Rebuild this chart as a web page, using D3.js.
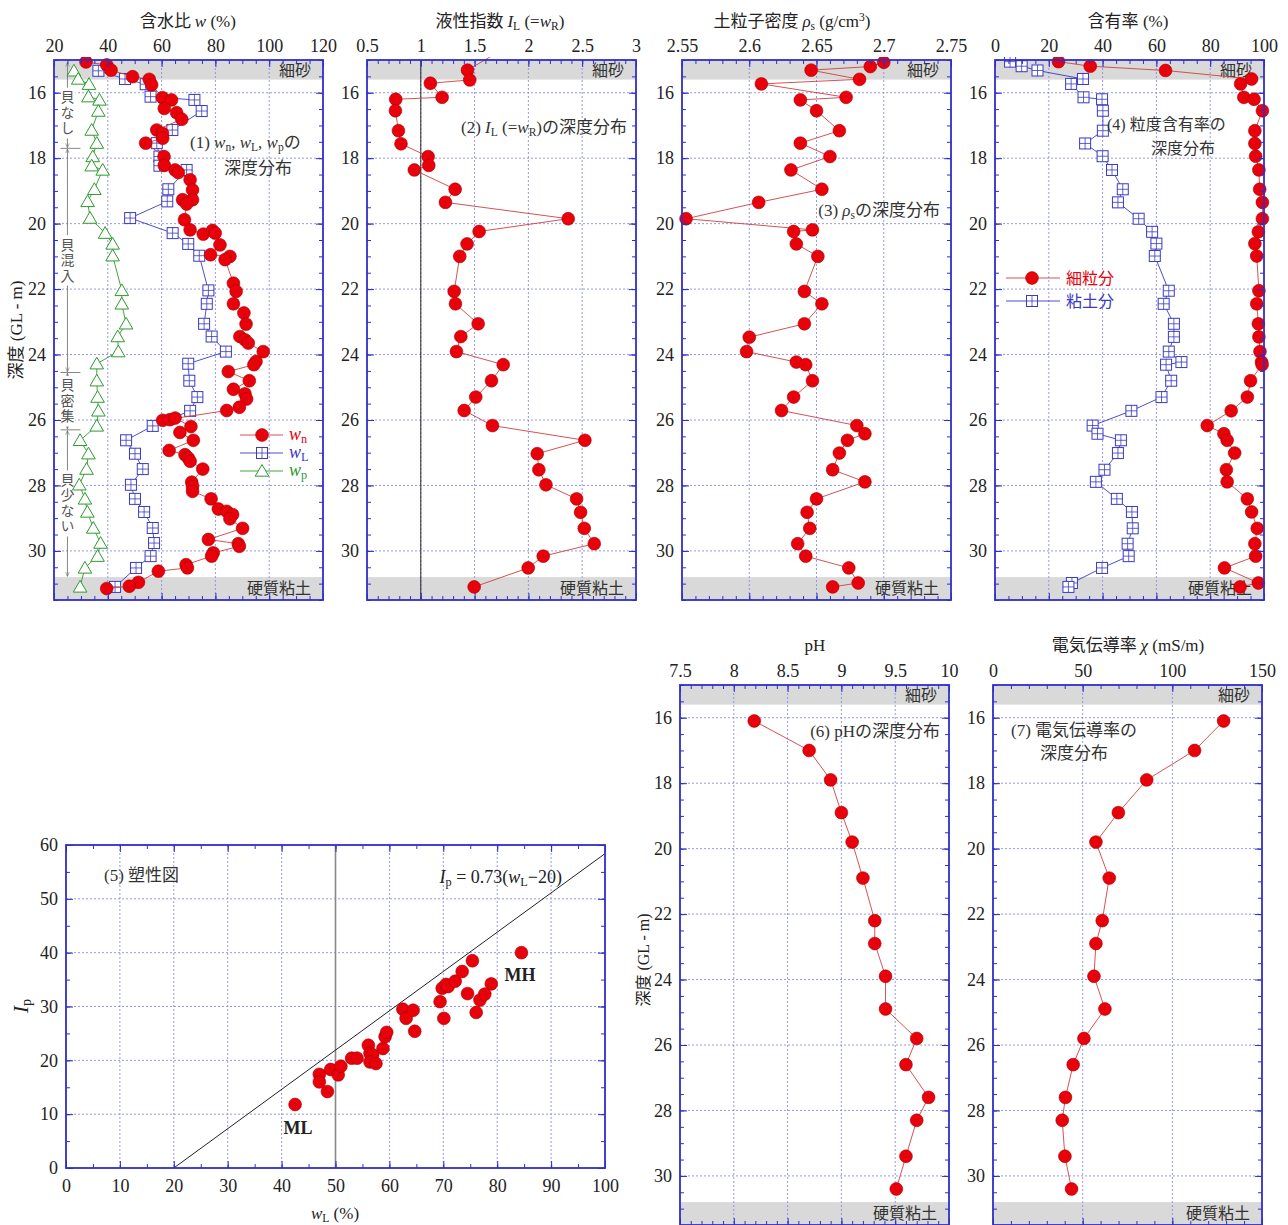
<!DOCTYPE html>
<html>
<head>
<meta charset="utf-8">
<script src="https://d3js.org/d3.v7.min.js"></script>
<style>
body { margin: 0; background: #fff; }
svg { display: block; font-family: "Liberation Serif", "Noto Sans CJK JP", serif; }
</style>
</head>
<body>
<script>

// (1) natural water content wn vs depth
var wnDepth = [15.06,15.15,15.31,15.51,15.59,15.76,16.15,16.22,16.48,16.61,16.81,17.14,17.24,17.39,17.54,17.95,18.22,18.36,18.44,18.66,18.97,19.27,19.27,19.4,19.88,20.19,20.32,20.21,20.29,20.65,20.95,21.0,21.1,21.82,22.07,22.45,22.73,
  23.07,23.45,23.55,23.65,23.91,24.21,24.31,24.52,24.8,25.06,25.2,25.36,25.61,25.71,26.01,25.99,25.94,26.2,26.38,26.62,26.93,27.06,27.16,27.26,27.5,27.9,28.03,28.18,28.41,28.72,28.79,28.89,29.02,29.31,29.65,29.78,29.86,30.06,30.16,30.42,30.52,30.62,30.96,31.08,31.15];
var wnVal = [31.9,39.6,41.2,49.2,55.4,56.3,60.3,63.7,61.0,65.6,67.5,58.2,60.3,60.4,54.1,60.9,61.0,65.0,66.2,70.6,71.5,71.5,67.8,69.3,68.5,70.6,75.5,78.9,79.9,81.7,78.2,85.4,83.6,86.7,87.7,86.7,90.6,
  91.4,89.1,91.0,92.2,97.8,95.1,94.3,84.8,92.6,86.7,91.0,91.6,88.9,84.2,60.4,63.1,65.0,70.9,66.8,71.8,62.8,68.7,69.9,70.6,75.3,71.2,71.5,71.5,78.4,81.1,84.2,86.4,85.4,90.1,77.4,88.5,88.9,79.2,78.6,69.1,69.6,58.8,51.4,48.0,39.6];

// liquid limit wL and plastic limit wp (same samples)
var atDepth = [15.33,15.58,15.74,16.12,16.22,16.56,17.14,17.54,17.95,18.23,18.36,18.95,19.32,19.83,20.29,20.62,20.98,22.04,22.45,23.06,23.45,23.91,24.28,24.8,25.3,25.72,26.18,26.62,27.03,27.5,27.98,28.41,28.81,29.3,29.76,30.16,30.52,31.1];
var wLVal = [36.5,46.4,54.1,55.9,72.2,74.9,64.0,58.2,59.2,59.2,69.3,62.5,62.1,48.3,64.1,69.9,74.0,77.4,76.8,75.8,78.6,83.9,69.9,70.3,73.3,70.6,56.7,46.8,50.1,53.0,48.6,50.1,53.5,56.7,57.2,55.9,50.5,42.7];
var wpVal = [27.4,29.0,33.0,32.8,36.9,36.5,34.0,35.9,34.4,34.0,38.1,35.0,32.5,33.4,39.0,41.8,41.8,45.2,45.2,46.8,43.7,43.9,35.9,35.9,36.2,36.5,35.9,29.7,32.8,32.1,29.4,31.5,32.4,34.6,37.3,36.2,31.5,29.7];

// (2) liquidity index
var ilDepth = [14.7,15.31,15.61,15.71,16.14,16.2,16.55,17.16,17.56,17.95,18.22,18.36,18.95,19.35,19.85,20.24,20.62,21.0,22.07,22.45,23.06,23.45,23.91,24.31,24.8,25.3,25.71,26.17,26.62,27.03,27.52,27.98,28.41,28.82,29.31,29.78,30.16,30.52,31.1];
var ilVal = [1.75,1.434,1.455,1.089,1.198,0.767,0.764,0.792,0.816,1.068,1.074,0.94,1.319,1.229,2.37,1.542,1.43,1.362,1.31,1.322,1.533,1.372,1.331,1.766,1.657,1.511,1.403,1.666,2.525,2.082,2.097,2.163,2.448,2.485,2.519,2.612,2.138,1.998,1.496];

// (3) soil particle density
var rhoDepth = [15.07,15.2,15.31,15.59,15.73,16.14,16.22,16.55,17.16,17.54,17.95,18.36,18.95,19.35,19.85,20.19,20.24,20.62,21.0,22.07,22.45,23.06,23.47,23.91,24.23,24.31,24.8,25.3,25.71,26.17,26.42,26.62,27.01,27.52,27.89,28.41,28.82,29.31,29.78,30.16,30.52,30.98,31.1];
var rhoVal = [2.700,2.690,2.646,2.682,2.609,2.672,2.638,2.650,2.667,2.638,2.660,2.631,2.654,2.607,2.553,2.647,2.633,2.635,2.651,2.641,2.654,2.641,2.600,2.598,2.635,2.642,2.647,2.633,2.624,2.680,2.686,2.673,2.667,2.662,2.686,2.650,2.643,2.645,2.636,2.642,2.674,2.681,2.662];

// (4) fines and clay content
var gsDepth = [15.05,15.19,15.32,15.58,15.73,16.14,16.2,16.55,17.16,17.55,17.94,18.36,18.95,19.35,19.85,20.25,20.61,20.99,22.05,22.45,23.06,23.46,23.91,24.23,24.31,24.8,25.3,25.72,26.17,26.42,26.62,27.01,27.52,27.89,28.41,28.81,29.31,29.78,30.16,30.52,30.98,31.1];
var finesVal = [23.6,35.4,63.4,95.4,91.3,92.5,96.3,99.4,96.6,96.6,96.9,98.1,98.4,99.4,99.4,97.9,96.6,97.3,98.1,97.3,97.9,98.1,98.5,99.1,99.3,95.0,93.8,87.8,78.9,85.1,86.3,89.1,86.0,86.3,93.8,95.4,97.5,96.6,96.9,85.3,97.9,91.1];
var clayVal = [5.6,9.9,15.8,32.7,28.3,32.9,39.8,40.1,40.1,33.5,40.0,43.5,47.5,45.7,53.4,58.4,60.0,59.4,64.6,62.7,66.5,66.5,64.6,69.3,63.6,65.5,61.9,50.7,36.3,38.1,46.8,45.7,40.7,37.5,45.3,50.9,51.2,49.3,49.7,39.8,28.6,27.3];

// (5) plasticity chart
var plWL = [42.5,47.0,47.0,48.5,49.1,50.5,51.0,53.0,54.0,56.1,56.4,56.9,56.4,57.5,58.8,59.2,59.5,62.5,63.1,64.4,64.7,69.4,69.8,70.1,70.5,70.9,72.2,73.5,74.5,75.4,76.1,76.8,77.7,78.9,84.5];
var plIP = [11.8,17.4,16.0,14.2,18.3,17.3,18.9,20.4,20.4,22.8,21.3,21.0,19.7,19.4,22.2,24.4,25.2,29.5,27.8,29.3,25.4,30.9,33.4,27.8,34.1,33.7,34.7,36.5,32.4,38.5,28.9,31.2,32.3,34.2,40.0];

// (6)(7) pH and electric conductivity
var chemDepth = [16.1,17.0,17.9,18.9,19.8,20.9,22.2,22.9,23.9,24.9,25.8,26.6,27.6,28.3,29.4,30.4];
var phVal = [8.19,8.70,8.90,9.00,9.10,9.20,9.31,9.31,9.41,9.41,9.70,9.60,9.81,9.70,9.60,9.51];
var ecVal = [128.6,112.4,85.7,69.9,57.4,64.8,60.9,57.4,56.3,62.4,50.7,44.7,40.4,38.6,40.1,43.8];

var depthTicks = [16,18,20,22,24,26,28,30];
var sandBand = [15, 15.6], clayBand = [30.8, 31.5];

var C = {frame:"#2f2fc8", grid:"#8c8ce6", red:"#e8000b", redEdge:"#a80000", redLine:"#d04040",
         blue:"#3a3ac4", green:"#2e9a2e", band:"#d9d9d9", text:"#222", jp:"#333"};

var svg = d3.select("body").append("svg").attr("width", 1288).attr("height", 1225);
var clipCount = 0;

function steps(a, b, s) {
  var n = Math.round((b - a) / s);
  return d3.range(n + 1).map(function(i) { return +(a + i * s).toFixed(6); });
}

function makePanel(o) {
  var g = svg.append("g").attr("transform", "translate(" + o.left + "," + o.top + ")");
  var x = d3.scaleLinear().domain(o.xDomain).range([0, o.w]);
  var y = d3.scaleLinear().domain(o.yDomain).range(o.yFlip ? [o.h, 0] : [0, o.h]);
  var id = "clip" + (clipCount++);
  g.append("clipPath").attr("id", id).append("rect")
    .attr("x", -12).attr("y", -3).attr("width", o.w + 24).attr("height", o.h + 6);

  var back = g.append("g");
  if (o.bands) {
    o.bands.forEach(function(b) {
      back.append("rect").attr("x", 0).attr("width", o.w)
        .attr("y", y(b.r[0])).attr("height", y(b.r[1]) - y(b.r[0]))
        .attr("fill", C.band);
    });
  }

  var grid = g.append("g").attr("stroke", C.grid).attr("stroke-width", 0.9).attr("stroke-dasharray", "2,2");
  grid.selectAll(".gx").data(o.xTicks.filter(function(t) { return t > o.xDomain[0] && t < o.xDomain[1]; }))
    .join("line").attr("x1", x).attr("x2", x).attr("y1", 0).attr("y2", o.h);
  grid.selectAll(".gy").data(o.yTicks.filter(function(t) { return t > d3.min(o.yDomain) && t < d3.max(o.yDomain); }))
    .join("line").attr("y1", y).attr("y2", y).attr("x1", 0).attr("x2", o.w);

  if (o.bands) {
    o.bands.forEach(function(b) {
      g.append("text").attr("x", o.w - 12).attr("y", y((b.r[0] + b.r[1]) / 2)).attr("dy", "0.36em")
        .attr("text-anchor", "end").attr("font-size", 16).attr("fill", C.jp)
        .attr("font-family", "Noto Sans CJK JP").text(b.label);
    });
  }

  var under = g.append("g");
  var plot = g.append("g").attr("clip-path", "url(#" + id + ")");
  var axes = g.append("g");

  var none = function() { return ""; };
  var xMinor = steps(o.xDomain[0], o.xDomain[1], o.xMinor);
  var yMinor = steps(d3.min(o.yDomain), d3.max(o.yDomain), o.yMinor);

  function put(axis, tr) {
    var a = axes.append("g").attr("transform", tr || null).call(axis);
    a.select(".domain").remove();
    a.selectAll("line").attr("stroke", C.frame).attr("stroke-width", 1);
    a.selectAll("text").attr("font-family", "Liberation Serif").attr("font-size", 18).attr("fill", C.text);
  }
  put(d3.axisTop(x).tickValues(xMinor).tickSize(-4).tickFormat(none));
  put(d3.axisBottom(x).tickValues(xMinor).tickSize(-4).tickFormat(none), "translate(0," + o.h + ")");
  put(d3.axisLeft(y).tickValues(yMinor).tickSize(-4).tickFormat(none));
  put(d3.axisRight(y).tickValues(yMinor).tickSize(-4).tickFormat(none), "translate(" + o.w + ",0)");
  put(d3.axisTop(x).tickValues(o.xTicks).tickSize(-7).tickPadding(8).tickFormat(o.xLabelsBottom ? none : String));
  put(d3.axisBottom(x).tickValues(o.xTicks).tickSize(-7).tickPadding(11).tickFormat(o.xLabelsBottom ? String : none), "translate(0," + o.h + ")");
  put(d3.axisLeft(y).tickValues(o.yTicks).tickSize(-7).tickPadding(8).tickFormat(String));
  put(d3.axisRight(y).tickValues(o.yTicks).tickSize(-7).tickFormat(none), "translate(" + o.w + ",0)");

  axes.append("rect").attr("width", o.w).attr("height", o.h)
    .attr("fill", "none").attr("stroke", C.frame).attr("stroke-width", 1.8);

  return {g: g, x: x, y: y, plot: plot, under: under, w: o.w, h: o.h};
}

function marker(sel, kind) {
  if (kind === "circle") {
    sel.append("circle").attr("r", 6.4).attr("fill", C.red).attr("stroke", C.redEdge).attr("stroke-width", 0.6);
  } else if (kind === "square") {
    sel.append("rect").attr("x", -5.5).attr("y", -5.5).attr("width", 11).attr("height", 11)
      .attr("fill", "#fff").attr("stroke", C.blue).attr("stroke-width", 1);
    sel.append("path").attr("d", "M-5.5,0H5.5M0,-5.5V5.5").attr("stroke", C.blue).attr("stroke-width", 0.8);
  } else {
    sel.append("path").attr("d", "M0,-6.5L6.8,5.2L-6.8,5.2Z")
      .attr("fill", "#fff").attr("stroke", C.green).attr("stroke-width", 1);
  }
}

function series(p, xs, ys, kind, lineColor, noLine) {
  var pts = xs.map(function(v, i) { return [p.x(v), p.y(ys[i])]; });
  if (!noLine) {
    p.plot.append("path").attr("d", d3.line()(pts)).attr("fill", "none")
      .attr("stroke", lineColor).attr("stroke-width", 0.9);
  }
  var m = p.plot.append("g").selectAll("g").data(pts).join("g")
    .attr("transform", function(d) { return "translate(" + d[0] + "," + d[1] + ")"; });
  marker(m, kind);
}

// rich text: parts of {t, i, sub, sup, fill}
function rich(x, y, parts, opt) {
  opt = opt || {};
  var t = svg.append("text").attr("x", x).attr("y", y)
    .attr("font-size", opt.size || 17).attr("fill", opt.fill || C.text)
    .attr("text-anchor", opt.anchor || "start");
  if (opt.rotate) t.attr("transform", "rotate(-90," + x + "," + y + ")");
  var shift = 0;
  parts.forEach(function(p) {
    var s = p.sub ? 3 : (p.sup ? -6 : 0);
    var ts = t.append("tspan").text(p.t);
    if (s !== shift) { ts.attr("dy", s - shift); shift = s; }
    if (p.sub || p.sup) ts.attr("font-size", (opt.size || 17) * 0.68);
    if (p.i) ts.attr("font-style", "italic");
    if (p.b) ts.attr("font-weight", "bold");
    if (p.fill) ts.attr("fill", p.fill);
    if (p.jp) ts.attr("font-family", "Noto Sans CJK JP");
  });
  return t;
}

var bands = [{r: sandBand, label: "細砂"}, {r: clayBand, label: "硬質粘土"}];
var depthOpts = {top: 60, w: 269, h: 540, yDomain: [15, 31.5], yTicks: depthTicks, yMinor: 0.5, bands: bands};

// ---------- (1) water content ----------
var p1 = makePanel(Object.assign({}, depthOpts, {left: 54, xDomain: [20, 120], xTicks: steps(20, 120, 20), xMinor: 5}));

// shell annotation arrows
var shell = [
  {a: 15.05, b: 17.7, txt: "貝なし"},
  {a: 17.7, b: 24.55, txt: "貝混入"},
  {a: 24.55, b: 26.3, txt: "貝密集"},
  {a: 26.3, b: 30.8, txt: "貝少ない"}
];
var defs = svg.append("defs");
defs.append("marker").attr("id", "arr").attr("viewBox", "0 0 10 10").attr("refX", 9).attr("refY", 5)
  .attr("markerWidth", 5).attr("markerHeight", 7).attr("orient", "auto-start-reverse")
  .append("path").attr("d", "M0,1L10,5L0,9").attr("fill", "none").attr("stroke", "#666").attr("stroke-width", 1.2);
var sx = p1.x(25);
shell.forEach(function(s, i) {
  var ya = p1.y(s.a), yb = p1.y(s.b);
  p1.under.append("line").attr("x1", sx).attr("x2", sx).attr("y1", ya + 1).attr("y2", yb - 1)
    .attr("stroke", "#777").attr("stroke-width", 0.9)
    .attr("marker-start", "url(#arr)").attr("marker-end", "url(#arr)");
  if (i > 0) {
    p1.under.append("line").attr("x1", sx - 7).attr("x2", sx + 13).attr("y1", ya).attr("y2", ya)
      .attr("stroke", "#777").attr("stroke-width", 0.9);
  }
  var n = s.txt.length, len = n * 15.5, mid = (ya + yb) / 2 + (i === 0 ? 8 : 0);
  p1.under.append("rect").attr("x", sx - 8).attr("width", 16).attr("y", mid - len / 2 - 2).attr("height", len + 4).attr("fill", "#fff");
  p1.under.append("text").attr("x", sx).attr("y", mid)
    .attr("text-anchor", "middle").attr("font-size", 14).attr("fill", "#555")
    .attr("font-family", "Noto Sans CJK JP")
    .style("writing-mode", "vertical-rl").style("letter-spacing", "1.5px")
    .text(s.txt);
});

series(p1, wLVal, atDepth, "square", C.blue);
series(p1, wpVal, atDepth, "triangle", C.green);
series(p1, wnVal, wnDepth, "circle", C.redLine);

// legend (1)
[{k: "circle", c: C.redLine, f: C.red, s: "n", y: 435},
 {k: "square", c: C.blue, f: C.blue, s: "L", y: 453},
 {k: "triangle", c: C.green, f: C.green, s: "p", y: 471}].forEach(function(l) {
  svg.append("line").attr("x1", 240).attr("x2", 283).attr("y1", l.y).attr("y2", l.y).attr("stroke", l.c).attr("stroke-width", 0.9);
  marker(svg.append("g").attr("transform", "translate(262," + l.y + ")"), l.k);
  rich(289, l.y + 5, [{t: "w", i: true, fill: l.f}, {t: l.s, sub: true, fill: l.f}], {size: 18});
});

rich(190, 148, [{t: "(1) "}, {t: "w", i: true}, {t: "n", sub: true}, {t: ", "}, {t: "w", i: true}, {t: "L", sub: true},
  {t: ", "}, {t: "w", i: true}, {t: "p", sub: true}, {t: "の", jp: true}], {fill: C.jp});
rich(258, 174, [{t: "深度分布", jp: true}], {anchor: "middle", fill: C.jp});
rich(188, 27, [{t: "含水比 ", jp: true}, {t: "w", i: true}, {t: " (%)"}], {anchor: "middle"});
rich(22, 330, [{t: "深度", jp: true}, {t: " (GL - m)"}], {anchor: "middle", rotate: true, size: 17});

// ---------- (2) liquidity index ----------
var p2 = makePanel(Object.assign({}, depthOpts, {left: 367, xDomain: [0.5, 3], xTicks: steps(0.5, 3, 0.5), xMinor: 0.1}));
p2.under.append("line").attr("x1", p2.x(1)).attr("x2", p2.x(1)).attr("y1", 0).attr("y2", p2.h)
  .attr("stroke", "#222").attr("stroke-width", 1);
series(p2, ilVal, ilDepth, "circle", C.redLine);
rich(627, 133, [{t: "(2) "}, {t: "I", i: true}, {t: "L", sub: true}, {t: " (="}, {t: "w", i: true}, {t: "R", sub: true},
  {t: ")"}, {t: "の深度分布", jp: true}], {anchor: "end", fill: C.jp});
rich(500, 27, [{t: "液性指数  ", jp: true}, {t: "I", i: true}, {t: "L", sub: true}, {t: " (="}, {t: "w", i: true},
  {t: "R", sub: true}, {t: ")"}], {anchor: "middle"});

// ---------- (3) particle density ----------
var p3 = makePanel(Object.assign({}, depthOpts, {left: 682, xDomain: [2.55, 2.75], xTicks: steps(2.55, 2.75, 0.05), xMinor: 0.01}));
series(p3, rhoVal, rhoDepth, "circle", C.redLine);
rich(940, 216, [{t: "(3) "}, {t: "ρ", i: true}, {t: "s", sub: true}, {t: "の深度分布", jp: true}], {anchor: "end", fill: C.jp});
rich(792, 27, [{t: "土粒子密度 ", jp: true}, {t: "ρ", i: true}, {t: "s", sub: true}, {t: " (g/cm"}, {t: "3", sup: true}, {t: ")"}], {anchor: "middle"});

// ---------- (4) grain size content ----------
var p4 = makePanel(Object.assign({}, depthOpts, {left: 995, xDomain: [0, 100], xTicks: steps(0, 100, 20), xMinor: 5}));
series(p4, clayVal, gsDepth, "square", C.blue);
series(p4, finesVal, gsDepth, "circle", C.redLine);
rich(1107, 130, [{t: "(4) "}, {t: "粒度含有率の", jp: true}], {fill: C.jp, size: 16});
rich(1183, 154, [{t: "深度分布", jp: true}], {anchor: "middle", fill: C.jp, size: 16});
rich(1128, 27, [{t: "含有率", jp: true}, {t: " (%)"}], {anchor: "middle"});
[{k: "circle", c: C.redLine, f: C.red, t: "細粒分", y: 278}, {k: "square", c: C.blue, f: C.blue, t: "粘土分", y: 301}].forEach(function(l) {
  svg.append("line").attr("x1", 1006).attr("x2", 1060).attr("y1", l.y).attr("y2", l.y).attr("stroke", l.c).attr("stroke-width", 0.9);
  marker(svg.append("g").attr("transform", "translate(1032," + l.y + ")"), l.k);
  rich(1066, l.y + 6, [{t: l.t, jp: true, fill: l.f}], {size: 16});
});

// ---------- (5) plasticity chart ----------
var p5 = makePanel({left: 66, top: 845, w: 539, h: 323, xDomain: [0, 100], xTicks: steps(0, 100, 10), xMinor: 5,
  yDomain: [0, 60], yFlip: true, yTicks: steps(0, 60, 10), yMinor: 5, xLabelsBottom: true});
p5.under.append("line").attr("x1", p5.x(50)).attr("x2", p5.x(50)).attr("y1", 0).attr("y2", p5.h)
  .attr("stroke", "#888").attr("stroke-width", 1.6);
p5.plot.append("line").attr("x1", p5.x(20)).attr("y1", p5.y(0)).attr("x2", p5.x(100)).attr("y2", p5.y(0.73 * (100 - 20)))
  .attr("stroke", "#222").attr("stroke-width", 1);
series(p5, plWL, plIP, "circle", null, true);
rich(104, 881, [{t: "(5) "}, {t: "塑性図", jp: true}], {fill: C.jp});
rich(562, 883, [{t: "I", i: true}, {t: "p", sub: true}, {t: " = 0.73("}, {t: "w", i: true}, {t: "L", sub: true}, {t: "−20)"}], {anchor: "end", size: 18});
rich(298, 1134, [{t: "ML", b: true}], {anchor: "middle", size: 18});
rich(520, 981, [{t: "MH", b: true}], {anchor: "middle", size: 18});
rich(28, 1006, [{t: "I", i: true}, {t: "p", sub: true}], {anchor: "middle", rotate: true, size: 21});
rich(335, 1219, [{t: "w", i: true}, {t: "L", sub: true}, {t: " (%)"}], {anchor: "middle", size: 17});

// ---------- (6) pH ----------
var chemOpts = Object.assign({}, depthOpts, {top: 685});
var p6 = makePanel(Object.assign({}, chemOpts, {left: 680, xDomain: [7.5, 10], xTicks: steps(7.5, 10, 0.5), xMinor: 0.1}));
series(p6, phVal, chemDepth, "circle", C.redLine);
rich(940, 737, [{t: "(6) pH"}, {t: "の深度分布", jp: true}], {anchor: "end", fill: C.jp});
rich(815, 651, [{t: "pH"}], {anchor: "middle"});
rich(649, 960, [{t: "深度", jp: true}, {t: " (GL - m)"}], {anchor: "middle", rotate: true, size: 16});

// ---------- (7) electric conductivity ----------
var p7 = makePanel(Object.assign({}, chemOpts, {left: 993, xDomain: [0, 150], xTicks: steps(0, 150, 50), xMinor: 10}));
series(p7, ecVal, chemDepth, "circle", C.redLine);
rich(1011, 736, [{t: "(7) "}, {t: "電気伝導率の", jp: true}], {fill: C.jp});
rich(1040, 759, [{t: "深度分布", jp: true}], {fill: C.jp});
rich(1128, 651, [{t: "電気伝導率 ", jp: true}, {t: "χ", i: true}, {t: " (mS/m)"}], {anchor: "middle"});

</script>
</body>
</html>
